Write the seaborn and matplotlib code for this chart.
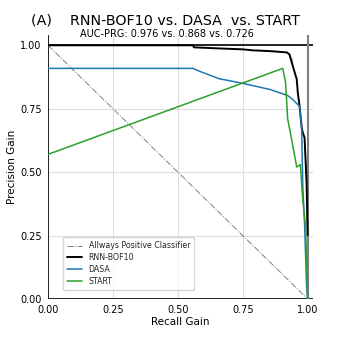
import numpy as np
import pandas as pd
import matplotlib
matplotlib.use("Agg")
import matplotlib.pyplot as plt
import seaborn as sns

# PRG curve points (recall gain, precision gain)
rnn_rg = [0.0, 0.558, 0.562, 0.65, 0.75, 0.79, 0.855, 0.92, 0.93, 0.938, 0.938, 0.95,
          0.958, 0.962, 0.969, 0.977, 0.981, 0.988, 0.996, 0.996, 1.0, 1.0]
rnn_pg = [1.0, 1.0, 0.992, 0.988, 0.984, 0.98, 0.977, 0.972, 0.964, 0.953, 0.917, 0.893,
          0.866, 0.814, 0.759, 0.676, 0.656, 0.636, 0.549, 0.36, 0.273, 0.23]

dasa_rg = [0.0, 0.558, 0.585, 0.66, 0.75, 0.854, 0.923, 0.942, 0.969, 0.977, 0.981,
           0.988, 0.996, 1.0]
dasa_pg = [0.909, 0.909, 0.897, 0.868, 0.85, 0.826, 0.802, 0.787, 0.759, 0.668, 0.45,
           0.3, 0.05, 0.0]

start_rg = [0.0, 0.904, 0.915, 0.923, 0.931, 0.958, 0.965, 0.972, 0.981, 0.992, 1.0]
start_pg = [0.57, 0.909, 0.854, 0.71, 0.668, 0.52, 0.525, 0.53, 0.39, 0.285, 0.0]

auc = {"RNN-BOF10": 0.976, "DASA": 0.868, "START": 0.726}
ticks = [0.0, 0.25, 0.5, 0.75, 1.0]

sns.set_style("whitegrid")
plt.rcParams["font.family"] = ["DejaVu Sans"]

fig = plt.figure(figsize=(3.48, 3.48), dpi=100)
ax = fig.add_axes([0.138, 0.141, 0.761, 0.758])
for s in ax.spines.values():
    s.set_visible(False)

ax.set_xlim(0, 1.02)
ax.set_ylim(0, 1.04)
ax.set_xticks(ticks)
ax.set_yticks(ticks)
ax.grid(True, color="#dddddd", lw=0.8)
ax.tick_params(axis="both", labelsize=7, length=3, width=0.8, color="#333333",
               labelcolor="black", pad=1.5)

ax.axvline(0, color="k", lw=1.2)
ax.axhline(0, color="k", lw=1.2)
ax.axhline(1, color="k", lw=1.2)
ax.axvline(1, color="grey", lw=1.5)

sns.lineplot(x=[0, 1], y=[1, 0], ax=ax, color="grey", lw=0.7, linestyle="-.",
             label="Allways Positive Classifier")
sns.lineplot(x=rnn_rg, y=rnn_pg, sort=False, ax=ax, color="black", lw=1.4, label="RNN-BOF10")
sns.lineplot(x=dasa_rg, y=dasa_pg, sort=False, ax=ax, color="#1f77b4", lw=1.1, label="DASA")
sns.lineplot(x=start_rg, y=start_pg, sort=False, ax=ax, color="#2ca02c", lw=1.1, label="START")

ax.legend(loc="lower left", bbox_to_anchor=(0.04, 0.02), fontsize=5.7, frameon=True,
          handlelength=2.0, borderpad=0.5, labelspacing=0.35)

ax.set_xlabel("Recall Gain", fontsize=7.5, labelpad=1, color="black")
ax.set_ylabel("Precision Gain", fontsize=7.5, labelpad=2, color="black")

fig.text(0.474, 0.942, "(A)    RNN-BOF10 vs. DASA  vs. START", ha="center", va="center",
         fontsize=10.3, color="black")
fig.text(0.48, 0.902, "AUC-PRG: %.3f vs. %.3f vs. %.3f" % (auc["RNN-BOF10"], auc["DASA"], auc["START"]),
         ha="center", va="center", fontsize=7, color="black")

fig.savefig("out.png", dpi=100)
